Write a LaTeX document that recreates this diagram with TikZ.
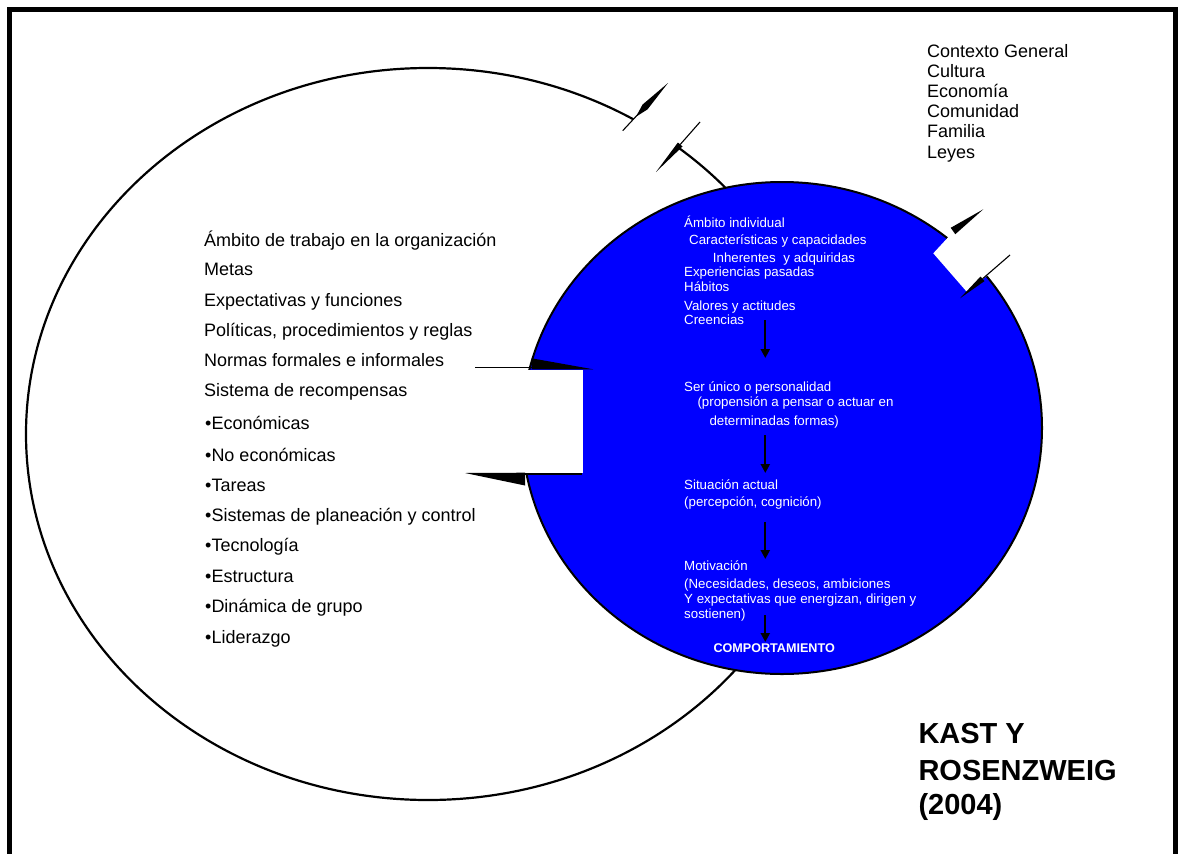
\documentclass[tikz,border=0pt]{standalone}
\usepackage{fontspec}
\setmainfont{Liberation Sans}
\usetikzlibrary{arrows.meta}
\definecolor{indblue}{RGB}{0,0,255}
\begin{document}
\begin{tikzpicture}[x=1pt,y=-1pt,
  lefttxt/.style={anchor=base west,inner sep=0,font=\fontsize{18}{20}\selectfont},
  ctxtxt/.style={anchor=base west,inner sep=0,font=\fontsize{18}{20}\selectfont},
  bluetxt/.style={anchor=base west,inner sep=0,text=white,font=\fontsize{13.3}{15}\selectfont},
  titletxt/.style={anchor=base west,inner sep=0,font=\bfseries\fontsize{29}{34}\selectfont},
  flow/.style={line width=2.2pt,-{Triangle[width=9pt,length=9pt]}},
  tickline/.style={line width=1.1pt},
]
\useasboundingbox (0,0) rectangle (1178,854);
\fill[white] (0,0) rectangle (1178,854);

% outer frame, open at the bottom
\draw[line width=5pt] (9,880) -- (9,9) -- (1175.5,9) -- (1175.5,880);

% organisation (large white ellipse)
\draw[fill=white,line width=2.2pt] (428,434) ellipse [x radius=402, y radius=366];
% break in its outline at the top right
\fill[white] (625,128.3) -- (645.3,106.9) -- (691.2,132) -- (664.8,162) -- cycle;

% individual (blue ellipse)
\draw[fill=indblue,line width=2pt] (782,428) ellipse [x radius=260, y radius=246];

% left notch cut into the blue ellipse
\fill[white] (470,369.5) rectangle (582.7,472.5);
\draw[line width=1pt] (475,367.3) -- (532,367.3);
\fill (531.7,358.3) -- (593.3,369.3) -- (531.7,369.3) -- cycle;
\fill (465,473) -- (525,472.7) -- (525,485.5) -- cycle;
\draw[line width=2.7pt] (525,474) -- (582,474);

% right break of the blue ellipse
\fill[white] (933.3,253.3) -- (953,232) -- (997,268) -- (966.7,291.7) -- cycle;
\fill (950.7,227.8) -- (955.3,234.2) -- (983.3,209.3) -- cycle;
\fill (960,298.3) -- (984.5,281.1) -- (980.5,276.5) -- cycle;
\draw[tickline] (982.5,278.8) -- (1010,255);

% break marks on the large ellipse
\draw[tickline] (622.7,130.7) -- (642,110);
\fill (636,116.7) -- (647.5,109.4) -- (668,83) -- (642.5,104.6) -- cycle;
\fill (656,172) -- (682.5,146.5) -- (677.9,142.5) -- cycle;
\draw[tickline] (680.2,144.5) -- (700,122);

% general context
\node[ctxtxt] (c1) at (927,57.3) {Contexto General};
\node[ctxtxt] (c2) at (927,77.5) {Cultura};
\node[ctxtxt] (c3) at (927,97.5) {Economía};
\node[ctxtxt] (c4) at (927,117.5) {Comunidad};
\node[ctxtxt] (c5) at (927,137.5) {Familia};
\node[ctxtxt] (c6) at (927,158) {Leyes};

% work environment in the organisation
\node[lefttxt] (o1) at (204,246) {Ámbito de trabajo en la organización};
\node[lefttxt] (o2) at (204,275.7) {Metas};
\node[lefttxt] (o3) at (204,306) {Expectativas y funciones};
\node[lefttxt] (o4) at (204,336.7) {Políticas, procedimientos y reglas};
\node[lefttxt] (o5) at (204,366.7) {Normas formales e informales};
\node[lefttxt] (o6) at (204,396) {Sistema de recompensas};
\node[lefttxt] (o7) at (205,429.3) {•Económicas};
\node[lefttxt] (o8) at (205,461) {•No económicas};
\node[lefttxt] (o9) at (205,491) {•Tareas};
\node[lefttxt] (o10) at (205,521.7) {•Sistemas de planeación y control};
\node[lefttxt] (o11) at (205,551.7) {•Tecnología};
\node[lefttxt] (o12) at (205,582.7) {•Estructura};
\node[lefttxt] (o13) at (205,612.3) {•Dinámica de grupo};
\node[lefttxt] (o14) at (205,643.3) {•Liderazgo};

% individual environment
\node[bluetxt] (b1) at (684,227.7) {Ámbito individual};
\node[bluetxt] (b2) at (689,244.3) {Características y capacidades};
\node[bluetxt] (b3) at (712.7,262) {Inherentes\hspace{0.3em} y adquiridas};
\node[bluetxt] (b4) at (684,276) {Experiencias pasadas};
\node[bluetxt] (b5) at (684,291.7) {Hábitos};
\node[bluetxt] (b6) at (684,310) {Valores y actitudes};
\node[bluetxt] (b7) at (684,324.3) {Creencias};
\node[bluetxt] (p1) at (684,391.7) {Ser único o personalidad};
\node[bluetxt] (p2) at (697.3,406.7) {(propensión a pensar o actuar en};
\node[bluetxt] (p3) at (709.3,425) {determinadas formas)};
\node[bluetxt] (s1) at (684,489.3) {Situación actual};
\node[bluetxt] (s2) at (684,506.7) {(percepción, cognición)};
\node[bluetxt] (m1) at (684,570) {Motivación};
\node[bluetxt] (m2) at (684,588.3) {(Necesidades, deseos, ambiciones};
\node[bluetxt] (m3) at (684,603.3) {Y expectativas que energizan, dirigen y};
\node[bluetxt] (m4) at (684,618.3) {sostienen)};
\node[bluetxt,font=\bfseries\fontsize{12.6}{14}\selectfont] (beh) at (713.3,652.3) {COMPORTAMIENTO};

% flow arrows
\coordinate (a1s) at (765.3,320);
\coordinate (a1e) at (765.3,358);
\coordinate (a2s) at (765.3,435);
\coordinate (a2e) at (765.3,473);
\coordinate (a3s) at (765.3,522);
\coordinate (a3e) at (765.3,559);
\coordinate (a4s) at (765.3,615);
\coordinate (a4e) at (765.3,642);
\draw[flow] (a1s) -- (a1e);
\draw[flow] (a2s) -- (a2e);
\draw[flow] (a3s) -- (a3e);
\draw[flow] (a4s) -- (a4e);

% authors
\node[titletxt] (t1) at (918.3,743.3) {KAST Y};
\node[titletxt] (t2) at (918.3,780) {ROSENZWEIG};
\node[titletxt] (t3) at (918.3,814) {(2004)};
\end{tikzpicture}
\end{document}
